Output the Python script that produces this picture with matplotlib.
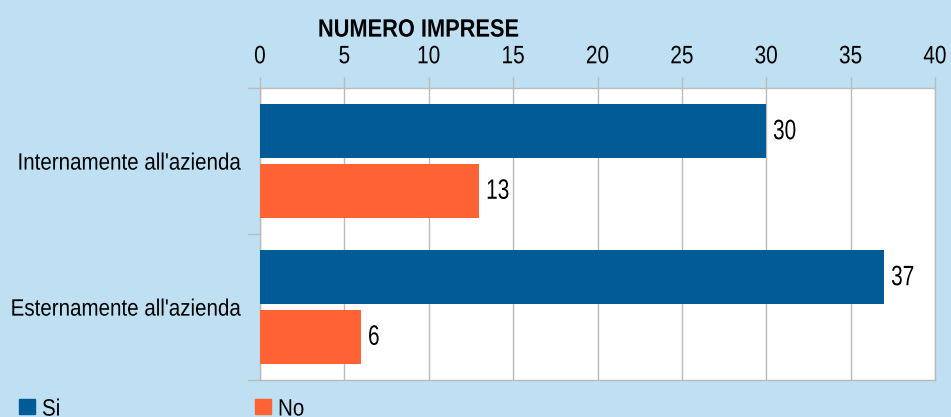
import matplotlib
matplotlib.use("Agg")
import matplotlib.pyplot as plt
import numpy as np
from matplotlib.patches import Rectangle
from matplotlib.patheffects import AbstractPathEffect
from matplotlib.transforms import Affine2D

categories = ["Internamente all'azienda", "Esternamente all'azienda"]
si_values = [30, 37]
no_values = [13, 6]
series_names = ["Si", "No"]
x_ticks = [0, 5, 10, 15, 20, 25, 30, 35, 40]

BG = "#BEE0F2"
BLUE = "#005B96"
ORANGE = "#FF6333"
GRID = "#BBBBBB"

plt.rcParams["font.family"] = ["Liberation Sans", "DejaVu Sans"]


class Stretch(AbstractPathEffect):
    """Draw text glyphs taller than their layout box (narrow-font look)."""

    def __init__(self, sx=1.0, sy=1.0):
        super().__init__()
        self.sx, self.sy = sx, sy

    def draw_path(self, renderer, gc, tpath, affine, rgbFace=None):
        ext = tpath.get_extents()
        cx, cy = (ext.x0 + ext.x1) / 2, (ext.y0 + ext.y1) / 2
        pre = (Affine2D().translate(-cx, -cy)
               .scale(self.sx, self.sy).translate(cx, cy))
        renderer.draw_path(gc, tpath, pre + affine, rgbFace)


fig = plt.figure(figsize=(9.51, 4.17), dpi=100, facecolor=BG)
ax = fig.add_axes([260 / 951, 1 - 380 / 417, 675 / 951, 292 / 417])
ax.set_facecolor("white")

y = np.arange(len(categories))
h = 0.367
off = 0.204
bars_si = ax.barh(y - off, si_values, height=h, color=BLUE, zorder=3)
bars_no = ax.barh(y + off, no_values, height=h, color=ORANGE, zorder=3)

for bars, vals in ((bars_si, si_values), (bars_no, no_values)):
    for b, v in zip(bars, vals):
        ax.text(v + 0.4, b.get_y() + b.get_height() / 2, str(v),
                va="center", ha="left", fontsize=15, color="black", zorder=4,
                path_effects=[Stretch(1.0, 1.35)])

ax.set_xlim(0, 40)
ax.set_ylim(1.5, -0.5)
ax.xaxis.tick_top()
ax.set_xticks(x_ticks)
ax.set_xticklabels([str(t) for t in x_ticks], fontsize=15)
ax.tick_params(axis="x", length=8, width=1, color=GRID, pad=8)
ax.grid(axis="x", color=GRID, linewidth=1, zorder=0)
for lab in ax.get_xticklabels():
    lab.set_path_effects([Stretch(1.0, 1.21)])

ax.set_yticks(y)
ax.set_yticklabels(categories, fontsize=14.8)
ax.tick_params(axis="y", length=0, pad=14.4)
for lab in ax.get_yticklabels():
    lab.set_path_effects([Stretch(1.0, 1.15)])
for b in (-0.5, 0.5, 1.5):
    ax.plot([-0.7, 0], [b, b], color=GRID, lw=1, clip_on=False, zorder=1)

for s in ax.spines.values():
    s.set_color(GRID)
    s.set_linewidth(1)

fig.text(418.5 / 951, 1 - 30 / 417, "NUMERO IMPRESE", ha="center", va="center",
         fontsize=15.7, fontweight="bold", path_effects=[Stretch(1.0, 1.15)])

# legend entries along the bottom edge
for (name, color), x0 in zip(zip(series_names, [BLUE, ORANGE]), [19, 255]):
    fig.patches.append(Rectangle((x0 / 951, 1 - 414 / 417), 16 / 951, 15 / 417,
                                 transform=fig.transFigure, color=color))
    fig.text((x0 + 23) / 951, 1 - 409 / 417, name, ha="left", va="center",
             fontsize=14.8, path_effects=[Stretch(1.0, 1.15)])

fig.savefig("out.png", dpi=100, facecolor=BG)
